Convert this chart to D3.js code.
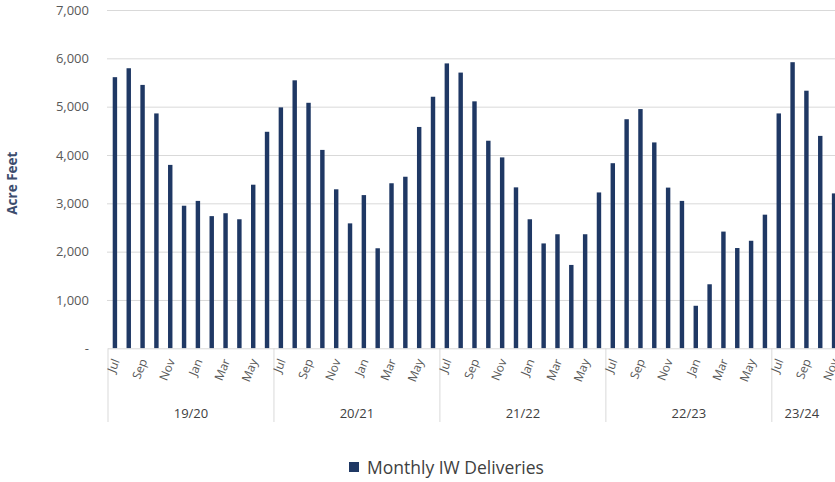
<!DOCTYPE html>
<meta charset="utf-8">
<style>
    body { margin: 0; background: #fff; }
    text { font-family: "Open Sans", sans-serif; }
    .grid line { stroke: #d9d9d9; stroke-width: 1px; }
    .grid .domain { display: none; }
    .ylabels text { font-size: 13px; fill: #595959; }
    .months text { font-size: 12px; fill: #595959; }
    .years text { font-size: 13px; fill: #404040; }
    .box line { stroke: #d9d9d9; stroke-width: 1px; }
</style>
<svg width="835" height="482"></svg>
<script src="https://d3js.org/d3.v7.min.js"></script>
<script>
    // monthly IW deliveries, acre feet, Jul 2019 .. Nov 2023
    const monthNames = ["Jul", "Aug", "Sep", "Oct", "Nov", "Dec", "Jan", "Feb", "Mar", "Apr", "May", "Jun"];
    const fiscalYears = ["19/20", "20/21", "21/22", "22/23", "23/24"];
    const deliveries = [
        5610, 5795, 5450, 4860, 3795, 2950, 3050, 2735, 2795, 2670, 3385, 4480,
        4985, 5545, 5080, 4105, 3290, 2585, 3170, 2070, 3415, 3550, 4580, 5205,
        5895, 5705, 5110, 4295, 3950, 3330, 2670, 2170, 2360, 1725, 2360, 3225,
        3830, 4740, 4950, 4260, 3325, 3050, 880, 1325, 2415, 2075, 2225, 2765,
        4860, 5920, 5330, 4395, 3205
    ];
    const yTicks = [0, 1000, 2000, 3000, 4000, 5000, 6000, 7000];
    const shownMonths = ["Jul", "Sep", "Nov", "Jan", "Mar", "May"];

    const months = deliveries.map(function (d, i) {
        return {
            key: i,
            month: monthNames[i % 12],
            year: fiscalYears[Math.floor(i / 12)],
            value: d
        };
    });

    const svg = d3.select("svg");
    const left = 108, bandW = 13.83;
    const right = left + months.length * bandW;
    const y0 = 348.3, yTop = 10;

    const x = d3.scaleBand()
        .domain(months.map(function (d) { return d.key; }))
        .range([left, right])
        .paddingInner(0.68)
        .paddingOuter(0.34);

    const y = d3.scaleLinear().domain([0, 7000]).range([y0, yTop]);

    // gridlines
    svg.append("g")
        .attr("class", "grid")
        .attr("transform", "translate(" + (left - 1) + ",0)")
        .call(d3.axisRight(y).tickValues(yTicks).tickSize(835).tickFormat(""))
        .selectAll("line").filter(function (d) { return d === 0; }).remove();

    // y labels
    svg.append("g")
        .attr("class", "ylabels")
        .selectAll("text")
        .data(yTicks)
        .enter().append("text")
        .attr("x", 89)
        .attr("y", function (d) { return y(d); })
        .attr("dy", "0.35em")
        .attr("text-anchor", "end")
        .text(function (d) { return d === 0 ? "-" : d3.format(",")(d); });

    svg.append("text")
        .attr("transform", "translate(17," + ((y0 + yTop) / 2 + 4) + ") rotate(-90)")
        .attr("text-anchor", "middle")
        .style("font-size", "13.5px")
        .style("font-weight", "bold")
        .style("fill", "#3d4d6e")
        .text("Acre Feet");

    // bars
    svg.append("g")
        .selectAll("rect")
        .data(months)
        .enter().append("rect")
        .attr("x", function (d) { return x(d.key); })
        .attr("width", x.bandwidth())
        .attr("y", function (d) { return y(d.value); })
        .attr("height", function (d) { return y0 - y(d.value); })
        .attr("fill", "#1f3864");

    // category box
    const box = svg.append("g").attr("class", "box");
    box.append("line")
        .attr("x1", left).attr("x2", 835)
        .attr("y1", y0 + 0.5).attr("y2", y0 + 0.5);
    box.selectAll(".div")
        .data(fiscalYears)
        .enter().append("line")
        .attr("x1", function (d, i) { return left + i * 12 * bandW; })
        .attr("x2", function (d, i) { return left + i * 12 * bandW; })
        .attr("y1", y0)
        .attr("y2", 422);

    // month labels
    svg.append("g")
        .attr("class", "months")
        .selectAll("text")
        .data(months.filter(function (d) { return shownMonths.indexOf(d.month) >= 0; }))
        .enter().append("text")
        .attr("transform", function (d) {
            return "translate(" + (x(d.key) + x.bandwidth() / 2 + 1) + "," + (y0 + 11) + ") rotate(-68)";
        })
        .attr("text-anchor", "end")
        .attr("dy", "0.35em")
        .text(function (d) { return d.month; });

    // fiscal year labels
    svg.append("g")
        .attr("class", "years")
        .selectAll("text")
        .data(fiscalYears)
        .enter().append("text")
        .attr("x", function (d, i) { return left + (i + 0.5) * 12 * bandW; })
        .attr("y", 418)
        .attr("text-anchor", "middle")
        .text(function (d, i) { return i === fiscalYears.length - 1 ? "" : d; });

    // last fiscal year is cut off, its label sits in the visible part
    svg.select(".years").append("text")
        .attr("x", left + 4 * 12 * bandW + 30)
        .attr("y", 418)
        .attr("text-anchor", "middle")
        .text(fiscalYears[fiscalYears.length - 1]);

    // legend
    const legend = svg.append("g").attr("transform", "translate(349,462)");
    legend.append("rect")
        .attr("width", 10).attr("height", 10)
        .attr("fill", "#1f3864");
    legend.append("text")
        .attr("x", 18)
        .attr("y", 12)
        .style("font-size", "17.5px")
        .style("fill", "#404040")
        .text("Monthly IW Deliveries");
</script>
